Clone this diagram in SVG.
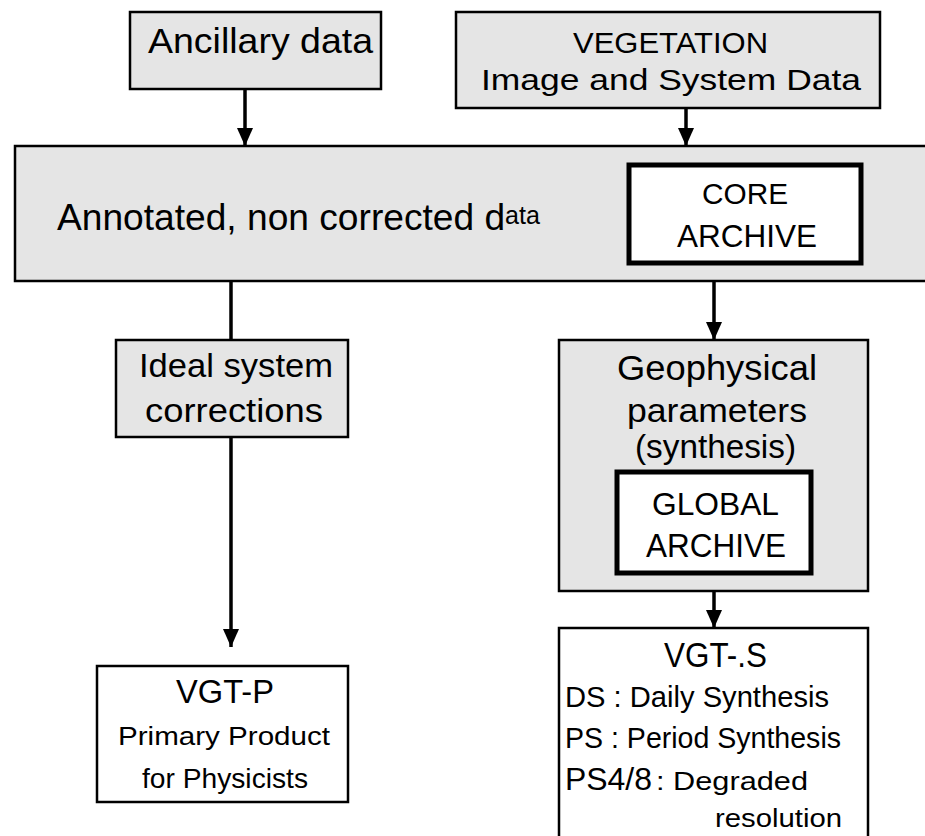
<svg xmlns="http://www.w3.org/2000/svg" width="925" height="836" viewBox="0 0 925 836">
<style>
.box{fill:#e5e5e5;stroke:#000;stroke-width:2.5}
.wbox{fill:#fff;stroke:#000;stroke-width:2.5}
.arch{fill:#fff;stroke:#000;stroke-width:5}
text{font-family:"Liberation Sans",Arial,sans-serif;fill:#000}
.c{stroke:#000;stroke-width:3.5;fill:none}
</style>
<defs>
<marker id="ah" markerUnits="userSpaceOnUse" markerWidth="18" markerHeight="16" viewBox="0 0 18 16" refX="18" refY="8" orient="auto">
<path d="M0,0 L18,8 L0,16 Z" fill="#000"/>
</marker>
</defs>
<rect width="925" height="836" fill="#fff"/>
<g id="connectors">
<line class="c" x1="245" y1="89" x2="245" y2="146" marker-end="url(#ah)"/>
<line class="c" x1="686" y1="108" x2="686" y2="146" marker-end="url(#ah)"/>
<line class="c" x1="231" y1="281" x2="231" y2="340"/>
<line class="c" x1="714" y1="281" x2="714" y2="340" marker-end="url(#ah)"/>
<line class="c" x1="231" y1="437" x2="231" y2="647" marker-end="url(#ah)"/>
<line class="c" x1="714" y1="591" x2="714" y2="628" marker-end="url(#ah)"/>
</g>
<g id="ancillary">
<rect class="box" x="130" y="12" width="251" height="77"/>
<text x="148" y="53" font-size="35" textLength="225" lengthAdjust="spacingAndGlyphs">Ancillary data</text>
</g>
<g id="vegetation">
<rect class="box" x="456" y="12" width="424" height="96"/>
<text x="573" y="53" font-size="30" textLength="195" lengthAdjust="spacingAndGlyphs">VEGETATION</text>
<text x="481" y="90" font-size="29" textLength="380" lengthAdjust="spacingAndGlyphs">Image and System Data</text>
</g>
<g id="annotated">
<rect class="box" x="15" y="146" width="920" height="135"/>
<text x="57" y="230" font-size="37" textLength="483" lengthAdjust="spacingAndGlyphs">Annotated, non corrected d<tspan font-size="25" dy="-6">ata</tspan></text>
</g>
<g id="core-archive">
<rect class="arch" x="629" y="165" width="232" height="98"/>
<text x="702" y="204" font-size="30" textLength="86" lengthAdjust="spacingAndGlyphs">CORE</text>
<text x="677" y="247" font-size="32" textLength="140" lengthAdjust="spacingAndGlyphs">ARCHIVE</text>
</g>
<g id="ideal">
<rect class="box" x="116" y="340" width="232" height="97"/>
<text x="139" y="377" font-size="33" textLength="194" lengthAdjust="spacingAndGlyphs">Ideal system</text>
<text x="145" y="422" font-size="33" textLength="178" lengthAdjust="spacingAndGlyphs">corrections</text>
</g>
<g id="geophysical">
<rect class="box" x="559" y="340" width="309" height="251"/>
<text x="617" y="380" font-size="35" textLength="200" lengthAdjust="spacingAndGlyphs">Geophysical</text>
<text x="627" y="422" font-size="34" textLength="180" lengthAdjust="spacingAndGlyphs">parameters</text>
<text x="635" y="458" font-size="34" textLength="161" lengthAdjust="spacingAndGlyphs">(synthesis)</text>
</g>
<g id="global-archive">
<rect class="arch" x="617" y="472" width="194" height="101"/>
<text x="652" y="515" font-size="32" textLength="127" lengthAdjust="spacingAndGlyphs">GLOBAL</text>
<text x="646" y="557" font-size="33" textLength="140" lengthAdjust="spacingAndGlyphs">ARCHIVE</text>
</g>
<g id="vgt-p">
<rect class="wbox" x="97" y="666" width="251" height="136"/>
<text x="176" y="703" font-size="33" textLength="98" lengthAdjust="spacingAndGlyphs">VGT-P</text>
<text x="118" y="745" font-size="26" textLength="212" lengthAdjust="spacingAndGlyphs">Primary Product</text>
<text x="142" y="788" font-size="28" textLength="166" lengthAdjust="spacingAndGlyphs">for Physicists</text>
</g>
<g id="vgt-s">
<rect class="wbox" x="559" y="628" width="309" height="220"/>
<text x="664" y="667" font-size="35" textLength="103" lengthAdjust="spacingAndGlyphs">VGT-.S</text>
<text x="565" y="707" font-size="29" textLength="264" lengthAdjust="spacingAndGlyphs">DS : Daily Synthesis</text>
<text x="565" y="748" font-size="29" textLength="276" lengthAdjust="spacingAndGlyphs">PS : Period Synthesis</text>
<text x="565" y="790" font-size="32" textLength="87" lengthAdjust="spacingAndGlyphs">PS4/8</text>
<text x="656" y="790" font-size="25" textLength="152" lengthAdjust="spacingAndGlyphs">: Degraded</text>
<text x="715" y="827" font-size="25" textLength="127" lengthAdjust="spacingAndGlyphs">resolution</text>
</g>
</svg>
